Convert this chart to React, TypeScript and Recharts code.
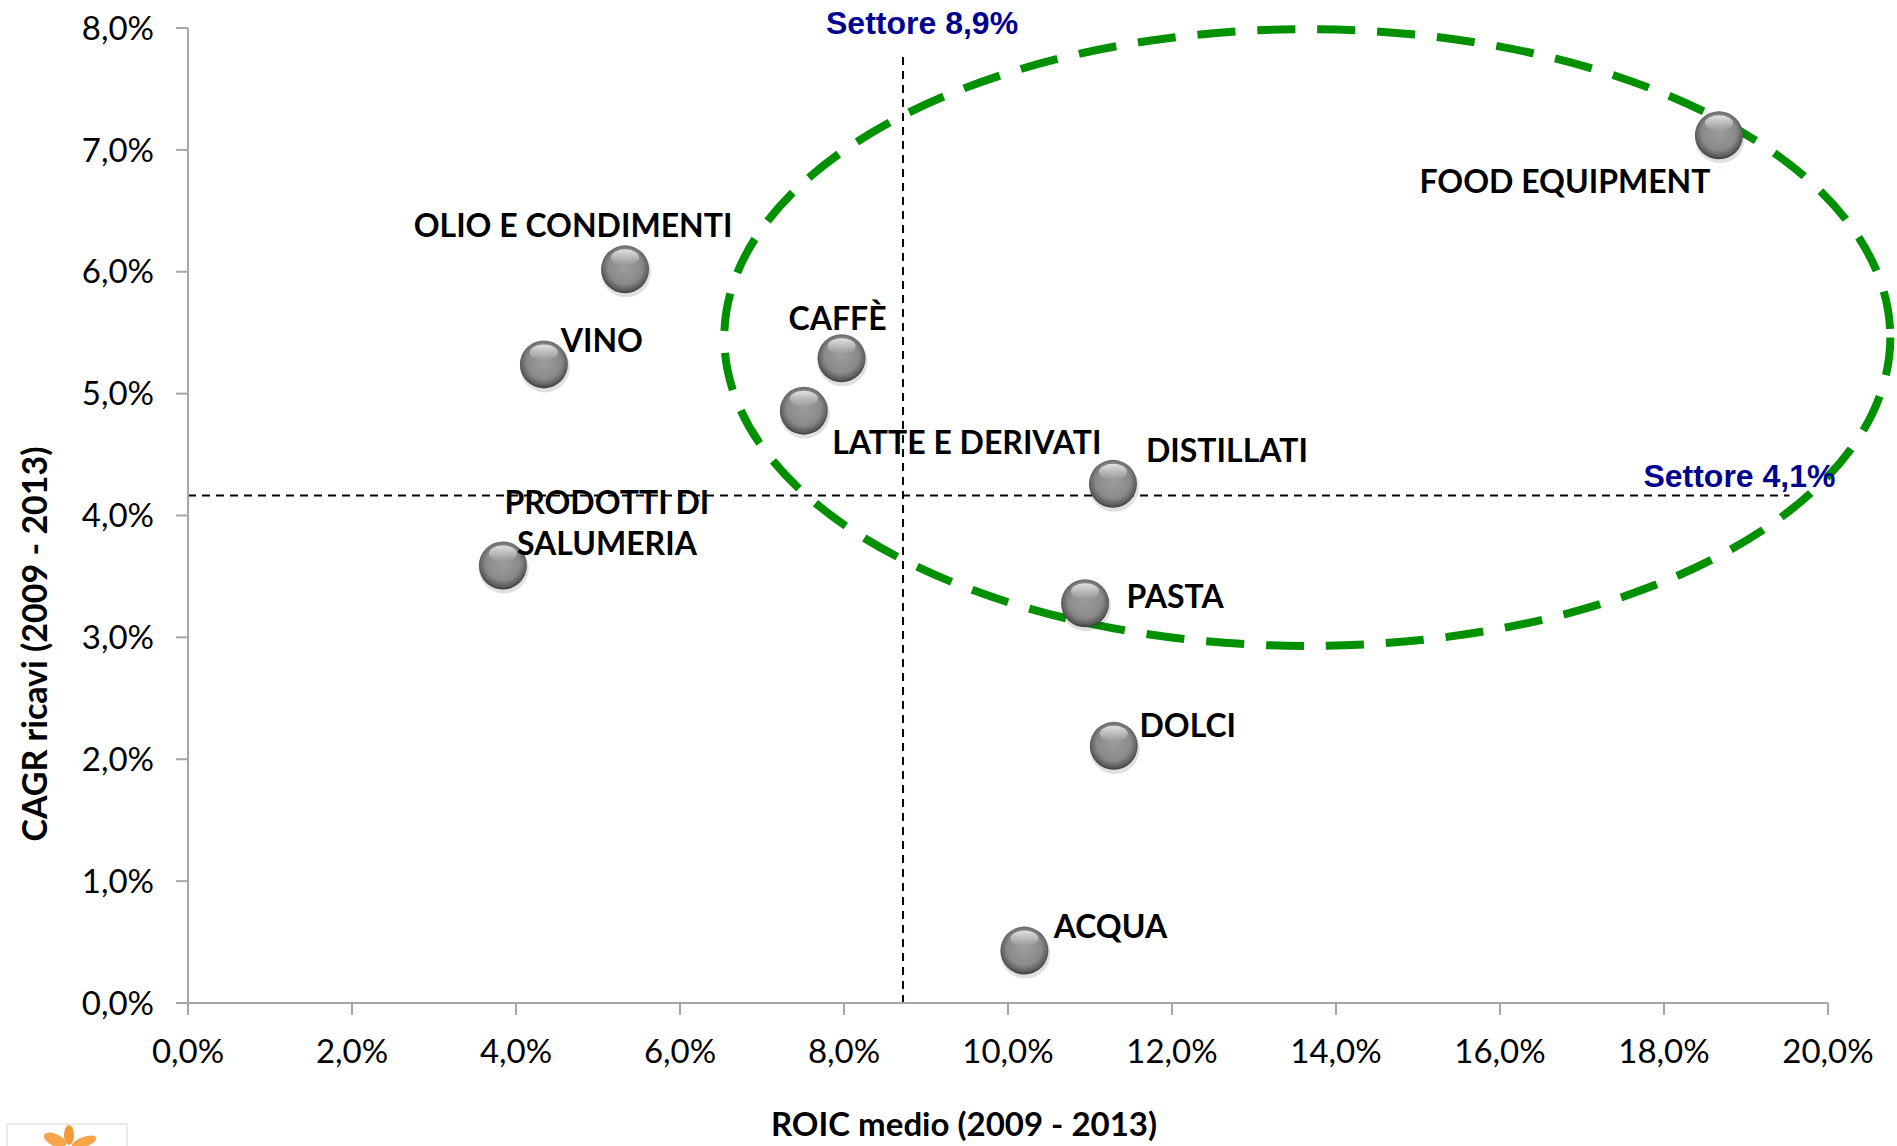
import React from "react"
import { ScatterChart, Scatter, XAxis, YAxis, ReferenceLine, ReferenceArea } from "recharts"

// settori alimentari
const categories = [
  "FOOD EQUIPMENT",
  "OLIO E CONDIMENTI",
  "VINO",
  "CAFFÈ",
  "LATTE E DERIVATI",
  "DISTILLATI",
  "PRODOTTI DI SALUMERIA",
  "PASTA",
  "DOLCI",
  "ACQUA",
]
const roicMedio = [18.67, 5.33, 4.34, 7.97, 7.51, 11.28, 3.84, 10.94, 11.29, 10.2]
const cagrRicavi = [7.12, 6.02, 5.24, 5.29, 4.86, 4.26, 3.59, 3.28, 2.11, 0.43]

const xTicks = [0, 2, 4, 6, 8, 10, 12, 14, 16, 18, 20]
const yTicks = [0, 1, 2, 3, 4, 5, 6, 7, 8]

// medie di settore (linee tratteggiate) e zona evidenziata
const settoreRoic = 8.72
const settoreCagr = 4.165
const settoreRoicLabel = "Settore 8,9%"
const settoreCagrLabel = "Settore 4,1%"
const ellipseX = [6.54, 20.76]
const ellipseY = [2.93, 7.99]

const data = categories.map((name, i) => ({ name, x: roicMedio[i], y: cagrRicavi[i] }))

// label placement around each bubble (px offsets)
const labelPos: Record<string, { dx: number; dy: number; lines?: string[] }> = {
  "FOOD EQUIPMENT": { dx: -154, dy: 45 },
  "OLIO E CONDIMENTI": { dx: -52, dy: -45 },
  VINO: { dx: 58, dy: -25 },
  "CAFFÈ": { dx: -4, dy: -41 },
  "LATTE E DERIVATI": { dx: 163, dy: 31 },
  DISTILLATI: { dx: 114, dy: -34 },
  "PRODOTTI DI SALUMERIA": { dx: 104, dy: -64, lines: ["PRODOTTI DI", "SALUMERIA"] },
  PASTA: { dx: 90, dy: -8 },
  DOLCI: { dx: 74, dy: -21 },
  ACQUA: { dx: 86, dy: -25 },
}

const fmt = (v: number) => v.toFixed(1).replace(".", ",") + "%"
const font = "Lato, 'Open Sans', sans-serif"

function Bubble(props: any) {
  const { cx, cy, payload, index } = props
  if (cx == null || cy == null) return null
  const id = `sph${index}`
  const pos = labelPos[payload.name]
  const lines = pos.lines ?? [payload.name]
  return (
    <g>
      <defs>
        <radialGradient id={id} cx="50%" cy="45%" r="55%">
          <stop offset="0%" stopColor="#9c9c9c" />
          <stop offset="65%" stopColor="#8a8a8a" />
          <stop offset="88%" stopColor="#5e5e5e" />
          <stop offset="100%" stopColor="#3c3c3c" />
        </radialGradient>
        <linearGradient id={id + "h"} x1="0" y1="0" x2="0" y2="1">
          <stop offset="0%" stopColor="#ffffff" stopOpacity={0.75} />
          <stop offset="100%" stopColor="#ffffff" stopOpacity={0} />
        </linearGradient>
      </defs>
      <ellipse cx={cx + 1} cy={cy + 3} rx={25} ry={25} fill="#000" opacity={0.12} />
      <circle cx={cx} cy={cy} r={24} fill={`url(#${id})`} />
      <ellipse cx={cx} cy={cy - 12} rx={14} ry={8} fill={`url(#${id}h)`} />
      {lines.map((t, k) => (
        <text
          key={k}
          x={cx + pos.dx}
          y={cy + pos.dy + k * 41}
          textAnchor="middle"
          dominantBaseline="central"
          fontFamily={font}
          fontWeight={700}
          fontSize={32}
          fill="#000"
        >
          {t}
        </text>
      ))}
    </g>
  )
}

function Ellipse(props: any) {
  const { x, y, width, height } = props
  return (
    <ellipse
      cx={x + width / 2}
      cy={y + height / 2}
      rx={Math.abs(width) / 2}
      ry={Math.abs(height) / 2}
      fill="none"
      stroke="#009000"
      strokeWidth={8}
      strokeDasharray="38 22"
    />
  )
}

const settoreText = (value: string, dx: number, dy: number) => (props: any) => {
  const vb = props.viewBox
  const x = vb.x + (vb.width ?? 0)
  const y = vb.y
  return (
    <text
      x={x + dx}
      y={y + dy}
      textAnchor="middle"
      dominantBaseline="central"
      fontFamily="'Liberation Sans', Arial, sans-serif"
      fontWeight={700}
      fontSize={32}
      fill="#000090"
    >
      {value}
    </text>
  )
}

export default function App() {
  return (
    <div style={{ position: "absolute", left: 0, top: 0, width: 1897, height: 1146, background: "#fff", fontFamily: font }}>
      <ScatterChart width={1897} height={1146} margin={{ top: 28, right: 69, bottom: 83, left: 88 }}>
        <XAxis
          type="number"
          dataKey="x"
          domain={[0, 20]}
          ticks={xTicks}
          tickFormatter={fmt}
          height={60}
          axisLine={{ stroke: "#a6a6a6", strokeWidth: 2 }}
          tickLine={{ stroke: "#a6a6a6", strokeWidth: 2 }}
          tickSize={12}
          tickMargin={25}
          tick={{ fill: "#000", fontSize: 33, fontFamily: font }}
        />
        <YAxis
          type="number"
          dataKey="y"
          domain={[0, 8]}
          ticks={yTicks}
          tickFormatter={fmt}
          width={100}
          axisLine={{ stroke: "#a6a6a6", strokeWidth: 2 }}
          tickLine={{ stroke: "#a6a6a6", strokeWidth: 2 }}
          tickSize={12}
          tickMargin={22}
          tick={{ fill: "#000", fontSize: 33, fontFamily: font }}
        />
        <ReferenceLine
          segment={[{ x: settoreRoic, y: 0 }, { x: settoreRoic, y: 7.8 }]}
          stroke="#000"
          strokeWidth={2}
          strokeDasharray="8 6"
          label={settoreText(settoreRoicLabel, 19, -29)}
        />
        <ReferenceLine
          segment={[{ x: 0, y: settoreCagr }, { x: 19.53, y: settoreCagr }]}
          stroke="#000"
          strokeWidth={2}
          strokeDasharray="8 6"
          label={settoreText(settoreCagrLabel, -50, -19)}
        />
        <Scatter data={data} shape={Bubble} isAnimationActive={false} />
        <ReferenceArea
          x1={ellipseX[0]}
          x2={ellipseX[1]}
          y1={ellipseY[0]}
          y2={ellipseY[1]}
          ifOverflow="visible"
          shape={Ellipse}
        />
        <text x={964} y={1123} textAnchor="middle" dominantBaseline="central" fontFamily={font} fontWeight={700} fontSize={33}>
          ROIC medio (2009 - 2013)
        </text>
        <text
          x={33}
          y={644}
          textAnchor="middle"
          dominantBaseline="central"
          fontFamily={font}
          fontWeight={700}
          fontSize={34}
          transform="rotate(-90 33 644)"
        >
          CAGR ricavi (2009 - 2013)
        </text>
      </ScatterChart>
      <svg style={{ position: "absolute", left: 0, top: 0, pointerEvents: "none" }} width={1897} height={1146}>
        <rect x={7} y={1124} width={120} height={30} fill="none" stroke="#d8d8d8" strokeWidth={1} />
        <ellipse cx={55} cy={1140} rx={12} ry={6} fill="#f6a54a" transform="rotate(25 55 1140)" />
        <ellipse cx={69} cy={1135} rx={5} ry={10} fill="#f39a3a" />
        <ellipse cx={84} cy={1142} rx={13} ry={5} fill="#f6a54a" transform="rotate(-20 84 1142)" />
      </svg>
    </div>
  )
}
